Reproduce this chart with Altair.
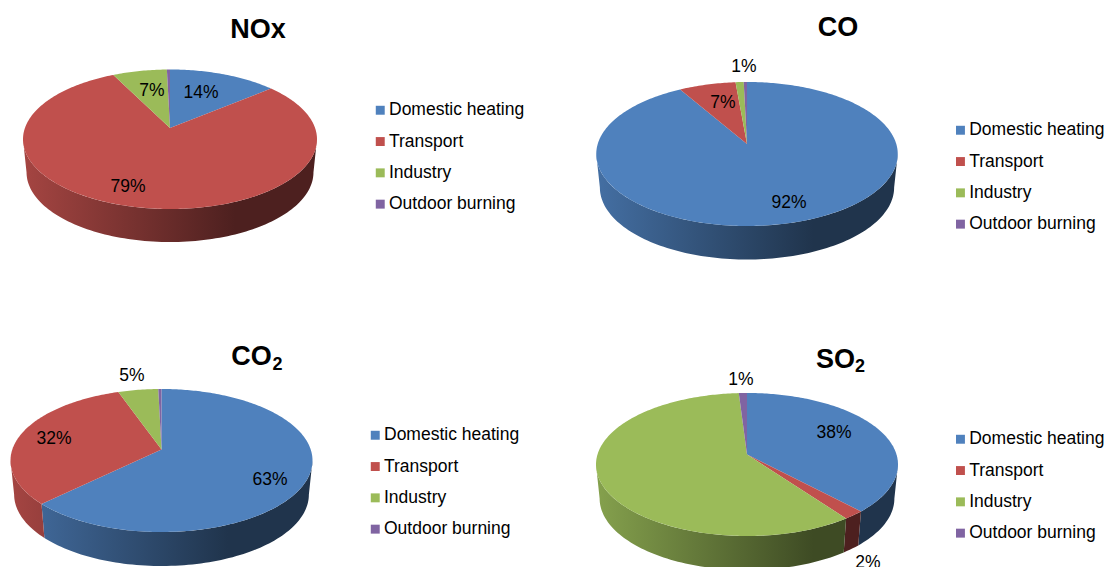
import math

import altair as alt
import pandas as pd

CANVAS_W, CANVAS_H = 1109, 567
FONT = "Liberation Sans"

# Emission shares (%) by source, one entry per pollutant
POLLUTANTS = ["NOx", "CO", "CO", "SO"]
SUBSCRIPTS = ["", "", "2", "2"]
SOURCES = ["Domestic heating", "Transport", "Industry", "Outdoor burning"]
DOMESTIC = [14, 92, 63, 38]
TRANSPORT = [79, 7, 32, 2]
INDUSTRY = [7, 1, 5, 59]
OUTDOOR = [0.4, 0.4, 0.4, 1]
LABELS = [
    ["14%", "79%", "7%"],
    ["92%", "7%", "1%"],
    ["63%", "32%", "5%"],
    ["38%", "2%", "1%"],
]

SOURCE_COLORS = ["#4F81BD", "#C0504D", "#9BBB59", "#8064A2"]

# Pie geometry on the page: left, right, top, front of the disc, apex, wall depth
PIES = [
    dict(left=23.5, right=317.5, top=69.5, front=209, apex=(170, 128), depth=33),
    dict(left=596.5, right=898, top=82, front=226, apex=(747, 144), depth=33.5),
    dict(left=10.5, right=312.5, top=389, front=532, apex=(161.5, 449.5), depth=34),
    dict(left=596, right=898, top=393, front=536, apex=(747, 454.5), depth=34),
]
WALL_TAPER = 0.976
TITLE_POS = [(258, 30), (838, 28), (251.5, 357), (835.5, 359.5)]
SUBSCRIPT_POS = [None, None, (277.5, 365), (860, 367)]
LABEL_POS = [
    [(201, 93), (128, 187), (152, 91)],
    [(789, 203), (723, 103), (744, 67)],
    [(270, 480), (54, 439), (132, 376)],
    [(834, 433), (868, 563), (741, 380)],
]
LEGEND_POS = [(371.5, 101.5), (951.7, 121.5), (366.5, 426.5), (951.7, 430.5)]


def rim_point(pie, theta):
    """Project a point of the disc's rim (clockwise from 12 o'clock) with a slight perspective."""
    ax, ay = pie["apex"]
    far, near = ay - pie["top"], pie["front"] - ay
    p = (near - far) / (near + far)
    b = far * (1 + p)
    a = (pie["right"] - pie["left"]) / 2 * math.sqrt(1 - p * p)
    u, v = math.sin(theta), math.cos(theta)
    return ax + a * u / (1 + p * v), ay - b * v / (1 + p * v), p


def shade(color, k):
    r, g, b = (int(color[i:i + 2], 16) for i in (1, 3, 5))
    return "#%02x%02x%02x" % (round(r * k), round(g * k), round(b * k))


def wall_factor(f):
    """Brightness of the side wall across the pie's width."""
    return 0.86 - (0.86 - 0.4) * min(f / 0.72, 1.0)


def wall_gradient(color, f0, f1):
    stops = [alt.GradientStop(offset=0, color=shade(color, wall_factor(f0)))]
    if f0 < 0.72 < f1:
        stops.append(alt.GradientStop(offset=(0.72 - f0) / (f1 - f0), color=shade(color, 0.4)))
    stops.append(alt.GradientStop(offset=1, color=shade(color, wall_factor(f1))))
    return alt.LinearGradient(gradient="linear", x1=0, x2=1, y1=0, y2=0, stops=stops)


X = alt.X("x:Q", scale=alt.Scale(domain=[0, CANVAS_W], range=[0, CANVAS_W]), axis=None)
Y = alt.Y("y:Q", scale=alt.Scale(domain=[0, CANVAS_H], range=[0, CANVAS_H]), axis=None)


def text_layer(label, pos, **style):
    """A single piece of text placed on the page scales."""
    frame = pd.DataFrame([{"label": label, "x": pos[0], "y": pos[1]}])
    return (
        alt.Chart(frame)
        .mark_text(font=FONT, color="#000000", baseline="middle", **style)
        .encode(x=X, y=Y, text="label:N")
    )


layers = []
series = list(zip(DOMESTIC, TRANSPORT, INDUSTRY, OUTDOOR))
for i, values in enumerate(series):
    pie = PIES[i]
    total = sum(values)
    edges = [0.0]
    for value in values:
        edges.append(edges[-1] + value / total * math.tau)
    _, _, p = rim_point(pie, 0)
    front_start = math.acos(-p)
    front_end = math.tau - front_start
    width = pie["right"] - pie["left"]
    ax = pie["apex"][0]

    # Side wall: the part of each slice's rim that faces the viewer, as a closed band
    for k, color in enumerate(SOURCE_COLORS):
        t0, t1 = max(edges[k], front_start), min(edges[k + 1], front_end)
        if t1 <= t0:
            continue
        steps = max(4, int((t1 - t0) * 40))
        rim = [rim_point(pie, t0 + (t1 - t0) * s / steps)[:2] for s in range(steps + 1)]
        lower = [(ax + (x - ax) * WALL_TAPER, y + pie["depth"]) for x, y in reversed(rim)]
        band = rim + lower + rim[:1]
        wall = pd.DataFrame([{"seq": n, "x": q[0], "y": q[1]} for n, q in enumerate(band)])
        f0 = (wall.x.min() - pie["left"]) / width
        f1 = (wall.x.max() - pie["left"]) / width
        layers.append(
            alt.Chart(wall)
            .mark_line(fill=wall_gradient(color, f0, f1), strokeWidth=0)
            .encode(x=X, y=Y, order="seq:Q")
        )

    # Top of the disc: one closed outline per slice
    rows = []
    for k, source in enumerate(SOURCES):
        t0, t1 = edges[k], edges[k + 1]
        steps = max(3, int((t1 - t0) * 60))
        outline = [pie["apex"]]
        for s in range(steps + 1):
            x, y, _ = rim_point(pie, t0 + (t1 - t0) * s / steps)
            outline.append((x, y))
        outline.append(pie["apex"])
        rows += [
            {"source": source, "seq": n, "x": q[0], "y": q[1]}
            for n, q in enumerate(outline)
        ]
    legend = alt.Legend(
        title=None,
        orient="none",
        legendX=LEGEND_POS[i][0],
        legendY=LEGEND_POS[i][1],
        symbolType="square",
        symbolSize=80,
        symbolStrokeWidth=0,
        labelFont=FONT,
        labelFontSize=17.5,
        labelColor="#000000",
        labelOffset=0,
        rowPadding=12.3,
        padding=0,
    )
    layers.append(
        alt.Chart(pd.DataFrame(rows))
        .mark_line(strokeWidth=0)
        .encode(
            x=X,
            y=Y,
            order="seq:Q",
            fill=alt.Fill(
                "source:N",
                scale=alt.Scale(domain=SOURCES, range=SOURCE_COLORS),
                legend=legend,
            ),
        )
    )

    # Percentage labels
    for text, pos in zip(LABELS[i], LABEL_POS[i]):
        layers.append(text_layer(text, pos, fontSize=17.5))

    # Pollutant heading, with its subscript where it has one
    layers.append(text_layer(POLLUTANTS[i], TITLE_POS[i], fontSize=27, fontWeight="bold"))
    if SUBSCRIPTS[i]:
        layers.append(text_layer(SUBSCRIPTS[i], SUBSCRIPT_POS[i], fontSize=18, fontWeight="bold"))

chart = (
    alt.layer(*layers)
    .resolve_scale(fill="independent")
    .properties(
        width=CANVAS_W,
        height=CANVAS_H,
        padding=0,
        autosize=alt.AutoSizeParams(type="none"),
        background="#ffffff",
    )
    .configure_view(stroke=None)
)

chart.save("out.html", embed_options={"renderer": "svg", "actions": False})
